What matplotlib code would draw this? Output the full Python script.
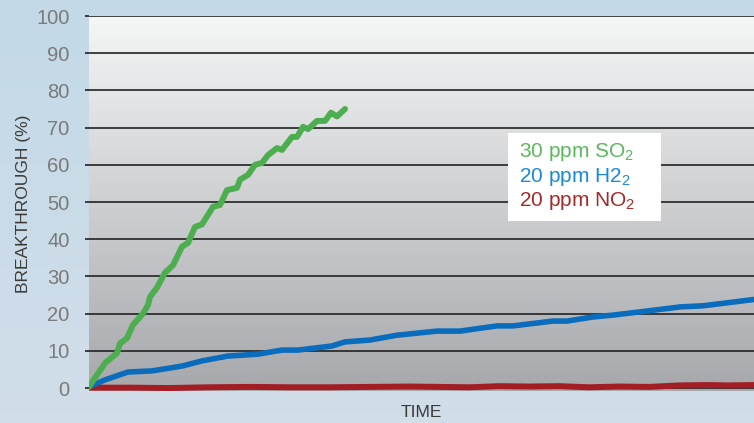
import numpy as np
import matplotlib
matplotlib.use("Agg")
import matplotlib.pyplot as plt

plt.rcParams['font.family'] = ['Liberation Sans', 'DejaVu Sans']
plt.rcParams['mathtext.fontset'] = 'custom'
plt.rcParams['mathtext.rm'] = 'Liberation Sans'

# data (time in arbitrary units)
so2_t = [0, 16, 28, 31, 38, 44, 54, 59, 61, 68, 76, 84, 93, 99, 106, 113, 124, 131, 138,
         148, 151, 159, 166, 173, 179, 188, 193, 203, 208, 214, 219, 228, 236, 242, 248, 256]
so2_v = [0.3, 6.7, 9.4, 12.0, 13.4, 17.0, 20.0, 22.3, 24.5, 27.0, 31.0, 33.0, 38.0, 39.0, 43.3,
         44.0, 48.7, 49.2, 53.2, 53.8, 56.0, 57.3, 60.0, 60.5, 62.6, 64.5, 64.0, 67.5, 67.5,
         70.2, 69.6, 71.8, 71.8, 74.0, 73.0, 75.0]

h2_t = [0, 16, 39, 63, 93, 113, 139, 169, 193, 209, 243, 256, 281, 308, 348, 371, 408, 424,
        464, 478, 504, 524, 558, 591, 614, 665]
h2_v = [0.3, 2.2, 4.3, 4.6, 5.9, 7.3, 8.6, 9.1, 10.2, 10.2, 11.3, 12.4, 12.9, 14.2, 15.3,
        15.3, 16.7, 16.7, 18.0, 18.0, 19.1, 19.6, 20.7, 21.8, 22.1, 23.8]

no2_t = [0, 40, 80, 120, 160, 200, 240, 280, 320, 350, 380, 410, 440, 470, 500, 530, 560,
         590, 620, 640, 665]
no2_v = [0.1, 0.1, 0.0, 0.2, 0.3, 0.2, 0.2, 0.3, 0.4, 0.3, 0.2, 0.5, 0.4, 0.5, 0.2, 0.4,
         0.3, 0.7, 0.8, 0.7, 0.8]

y_ticks = list(range(0, 101, 10))
labels = ['30 ppm SO$_2$', '20 ppm H2$_2$', '20 ppm NO$_2$']
colors = ['#5cb85c', '#1a8ad2', '#a52a2a']

fig = plt.figure(figsize=(7.54, 4.23), dpi=100)

# figure background gradient (light blue)
bg = fig.add_axes([0, 0, 1, 1], zorder=-10)
bg_grad = np.linspace(0, 1, 256).reshape(-1, 1)
top_c = np.array([0.765, 0.851, 0.906])
bot_c = np.array([0.820, 0.871, 0.914])
bg_img = top_c + (bot_c - top_c) * bg_grad[:, :, None]
bg.imshow(bg_img, aspect='auto', extent=[0, 1, 0, 1])
bg.axis('off')

ax = fig.add_axes([89 / 754, 1 - 391 / 423, 1 - 89 / 754, (391 - 16) / 423])
ax.set_facecolor('none')
ymin, ymax = -0.8, 100
xmin, xmax = 0, 665
ax.set_xlim(xmin, xmax)
ax.set_ylim(ymin, ymax)

# plot area gradient (white to grey)
g = np.linspace(0, 1, 256).reshape(-1, 1)
c_top = np.array([0.960, 0.965, 0.965])
c_bot = np.array([0.655, 0.659, 0.675])
img = c_top + (c_bot - c_top) * g[:, :, None]
ax.imshow(img, aspect='auto', extent=[xmin, xmax, ymin, ymax], zorder=0)

for y in y_ticks:
    ax.axhline(y, color='#222222', lw=1.2, zorder=1)

ax.plot(no2_t, no2_v, color='#a21d24', lw=4.3, solid_capstyle='round', zorder=3)
ax.plot(h2_t, h2_v, color='#0a6cbc', lw=4.0, solid_capstyle='round', zorder=4)
ax.plot(so2_t, so2_v, color='#4cae4f', lw=4.3, solid_capstyle='round', zorder=5)

for s in ax.spines.values():
    s.set_visible(False)
ax.set_xticks([])
ax.set_yticks(y_ticks)
ax.tick_params(axis='y', length=3, width=1.2, color='#222222', labelsize=14.5,
               labelcolor='#7a7a7a', pad=11)
ax.set_ylabel('BREAKTHROUGH (%)', fontsize=12.5, color='#3a3a3a', labelpad=4)
ax.set_xlabel('TIME', fontsize=12.5, color='#3a3a3a', labelpad=10)

# legend box
leg_x0, leg_x1 = (508 - 89) / 665, (661 - 89) / 665
leg_y0, leg_y1 = (391 - 221) / 375, (391 - 133) / 375
ax.add_patch(plt.Rectangle((leg_x0, leg_y0), leg_x1 - leg_x0, leg_y1 - leg_y0,
                           transform=ax.transAxes, facecolor='white', edgecolor='none',
                           zorder=6))
for i, (lab, col) in enumerate(zip(labels, colors)):
    yy = (391 - (152 + i * 24.5)) / 375
    ax.text((519 - 89) / 665, yy, lab, transform=ax.transAxes, color=col, fontsize=15,
            va='center', ha='left', zorder=7)

fig.savefig('out.png', dpi=100)
